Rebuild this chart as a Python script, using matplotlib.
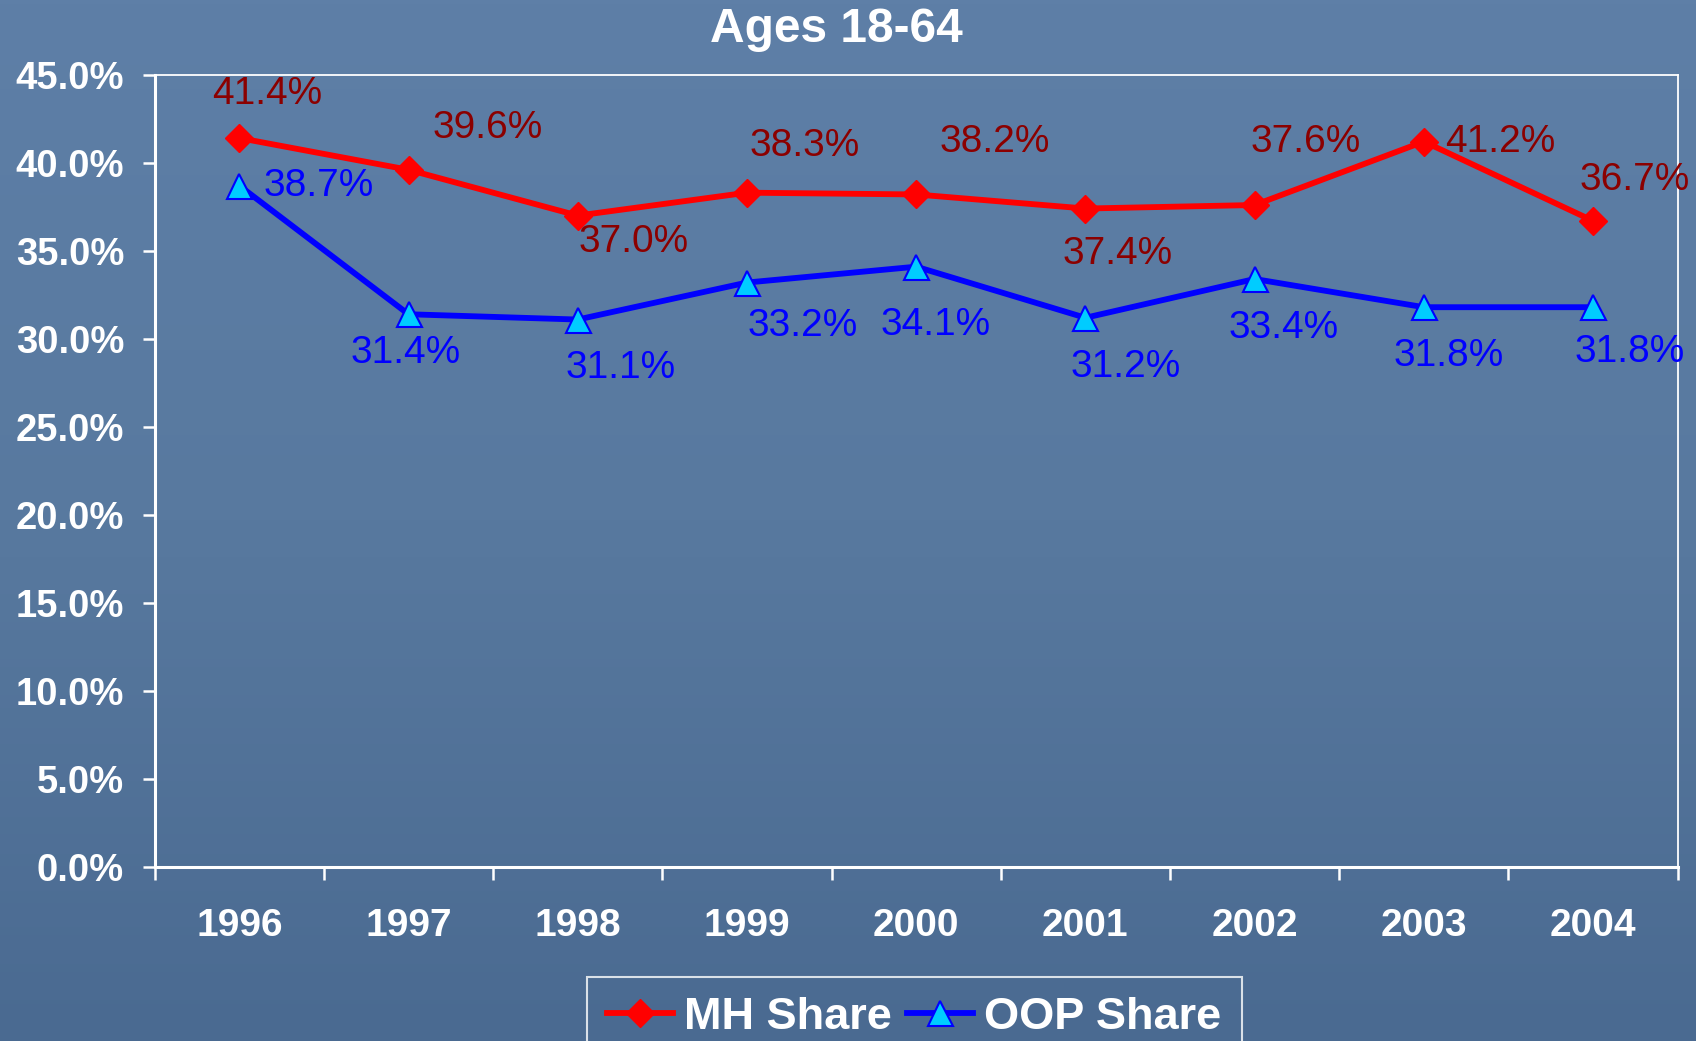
import matplotlib
matplotlib.use("Agg")
import matplotlib.pyplot as plt
import numpy as np

years = ["1996", "1997", "1998", "1999", "2000", "2001", "2002", "2003", "2004"]
mh_share = [41.4, 39.6, 37.0, 38.3, 38.2, 37.4, 37.6, 41.2, 36.7]
oop_share = [38.7, 31.4, 31.1, 33.2, 34.1, 31.2, 33.4, 31.8, 31.8]
yticks = [0, 5, 10, 15, 20, 25, 30, 35, 40, 45]

# label offsets in pixels (dx, dy)
mh_off = [(28, 44), (79, 42), (56, -26), (58, 47), (79, 52), (32, -45), (51, 63), (76, 0), (42, 41)]
oop_off = [(79, 0), (-3, -39), (43, -48), (56, -43), (19, -58), (40, -49), (29, -49), (25, -49), (37, -45)]

plt.rcParams['font.family'] = ['Liberation Sans', 'DejaVu Sans']

fig = plt.figure(figsize=(16.96, 10.41), dpi=100)

# background gradient
bg = fig.add_axes([0, 0, 1, 1])
grad = np.linspace(0, 1, 256).reshape(-1, 1)
cmap = matplotlib.colors.LinearSegmentedColormap.from_list("bg", ["#5e7fa7", "#58799f", "#4a6a91"])
bg.imshow(grad, aspect='auto', cmap=cmap, extent=[0, 1, 0, 1])
bg.set_axis_off()

ax = fig.add_axes([0.0912, 0.1667, 0.8980, 0.7616])
ax.patch.set_alpha(0)

x = np.arange(len(years))
ax.plot(x, mh_share, color='#ff0000', lw=4.2, marker='D', ms=14,
        mfc='#ff0000', mec='#ff0000', label='MH Share', zorder=3)
ax.plot(x, oop_share, color='#0000ff', lw=4.2, marker='^', ms=18,
        mfc='#00ccff', mec='#0000ff', mew=1.5, label='OOP Share', zorder=3)

for xi, v, (dx, dy) in zip(x, mh_share, mh_off):
    ax.annotate(f"{v:.1f}%", (xi, v), xytext=(dx, dy), textcoords='offset pixels',
                ha='center', va='center', fontsize=28, color='#8b0000')
for xi, v, (dx, dy) in zip(x, oop_share, oop_off):
    ax.annotate(f"{v:.1f}%", (xi, v), xytext=(dx, dy), textcoords='offset pixels',
                ha='center', va='center', fontsize=28, color='#0000ff')

ax.set_xlim(-0.5, 8.5)
ax.set_ylim(0, 45)
ax.set_yticks(yticks)
ax.set_yticklabels([f"{t:.1f}%" for t in yticks])
ax.set_xticks(x)
ax.set_xticklabels(years)
ax.set_xticks(np.arange(-0.5, 9, 1), minor=True)

for s in ax.spines.values():
    s.set_color('white')
ax.spines['left'].set_linewidth(2.2)
ax.spines['bottom'].set_linewidth(2.2)
ax.spines['top'].set_linewidth(1.3)
ax.spines['right'].set_linewidth(1.3)

ax.tick_params(axis='y', colors='white', length=9, width=1.8, pad=13, labelsize=27.5)
ax.tick_params(axis='x', which='major', length=0, pad=29, labelsize=28, labelcolor='white')
ax.tick_params(axis='x', which='minor', colors='white', length=9, width=1.8)
for lab in ax.get_xticklabels() + ax.get_yticklabels():
    lab.set_fontweight('bold')

fig.text(0.493, 1 - 29 / 1041, "Ages 18-64", ha='center', va='center',
         fontsize=34.5, fontweight='bold', color='white')

leg = fig.legend(loc='upper center', bbox_to_anchor=(0.539, 0.0615), ncol=2,
                 frameon=True, handlelength=1.45, handletextpad=0.25,
                 columnspacing=0.35, borderpad=0.45, borderaxespad=0, numpoints=1,
                 fancybox=False, prop={'weight': 'bold', 'size': 32.5})
leg.get_frame().set_edgecolor('white')
leg.get_frame().set_linewidth(1.5)
leg.get_frame().set_facecolor('none')
for t in leg.get_texts():
    t.set_color('white')

fig.savefig("out.png", dpi=100)
